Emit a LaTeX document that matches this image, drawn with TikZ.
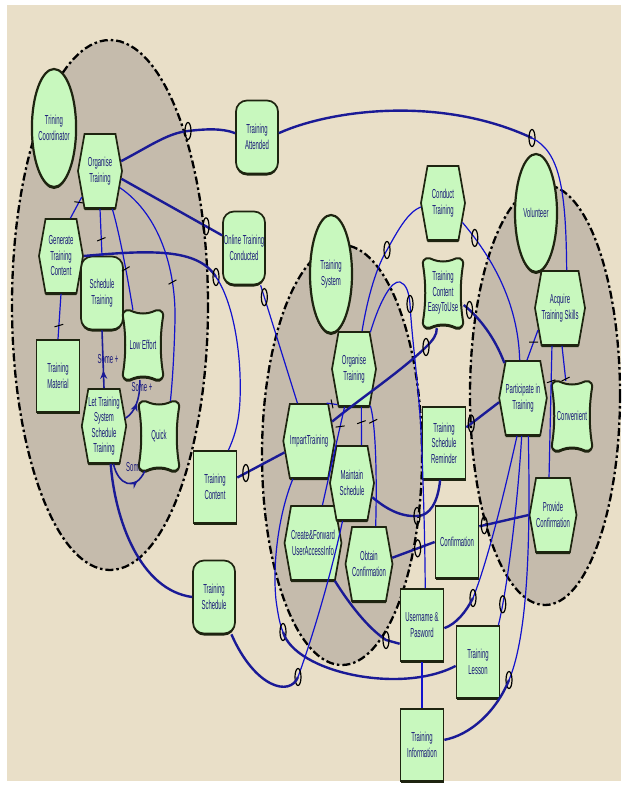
\documentclass[tikz,border=0pt]{standalone}
\usepackage{fontspec}
\newfontfamily\narfont[FakeStretch=0.46]{Liberation Sans}
\usetikzlibrary{shapes.geometric,shapes.symbols,shadows,decorations.markings,arrows.meta}
\definecolor{gfill}{RGB}{200,248,190}
\definecolor{edge}{RGB}{30,36,16}
\definecolor{tblue}{RGB}{25,25,120}
\definecolor{lblue}{RGB}{18,18,205}
\definecolor{dblue}{RGB}{26,26,150}
\definecolor{beige}{RGB}{233,223,200}
\definecolor{bgray}{RGB}{197,187,172}
\newcommand\lblfont{\narfont\fontsize{13}{15.5}\selectfont}
\tikzset{
 shd/.style={drop shadow={opacity=1, shadow xshift=0pt, shadow yshift=-2pt, fill=edge}},
 base/.style={fill=gfill, draw=edge, line width=1.7pt, inner sep=0pt, align=center, font=\lblfont, text=tblue, shd},
 actor/.style={base, ellipse, line width=2.2pt, minimum width=42pt, minimum height=118pt},
 goal/.style={base, rectangle, rounded corners=11pt, minimum width=42pt, minimum height=73pt},
 task/.style={base, signal, signal to=east and west, signal pointer angle=160, minimum width=44pt, minimum height=74pt},
 res/.style={base, rectangle, minimum width=43pt, minimum height=72pt},
 sgshape/.style={fill=gfill, draw=edge, line width=2pt, shd},
 sgtext/.style={inner sep=0pt, align=center, font=\lblfont, text=tblue, minimum width=41pt, minimum height=70pt},
 bnd/.style={fill=bgray, draw=black, line width=2.3pt, dash pattern=on 8pt off 3pt on 2.5pt off 3pt},
 lnk/.style={draw=lblue, line width=1.2pt},
 dep/.style={draw=dblue, line width=2.4pt},
 ctb/.style={draw=dblue, line width=1.6pt},
 dm/.style={draw=black, line width=1.2pt, ellipse, minimum width=6pt, minimum height=17pt, inner sep=0pt, fill=none},
 tick/.style={sloped, allow upside down, draw=black, line width=1pt, rectangle, minimum width=0pt, minimum height=9pt, inner sep=0pt, rotate=20},
 amid/.style={postaction={decorate}, decoration={markings, mark=at position #1 with {\arrow[dblue]{Stealth[length=8pt,width=7pt]}}}},
 lab/.style={font=\lblfont, text=tblue, inner sep=0pt}
}
\newcommand\sgoal[4]{%
  \path[sgshape, shift={(#2,#3)}] (-20,-28) .. controls (-21,-36) and (-14,-36) .. (-9,-33)
    .. controls (-4,-31) and (4,-31) .. (9,-33)
    .. controls (14,-36) and (21,-36) .. (20,-28)
    .. controls (17,-10) and (17,10) .. (20,28)
    .. controls (21,36) and (14,36) .. (9,33)
    .. controls (4,31) and (-4,31) .. (-9,33)
    .. controls (-14,36) and (-21,36) .. (-20,28)
    .. controls (-17,10) and (-17,-10) .. cycle;
  \node[sgtext] (#1) at (#2,#3) {#4};}
\begin{document}
\begin{tikzpicture}[x=1pt,y=-1pt]
\useasboundingbox (0,0) rectangle (621,789);
\fill[white] (0,0) rectangle (621,789);
\fill[beige] (7,5) rectangle (621,781);
% actor boundaries
\draw[bnd] (110,305) ellipse [x radius=98, y radius=265];
\draw[bnd] (342,455) ellipse [x radius=80, y radius=210];
\draw[bnd] (545,395) ellipse [x radius=75, y radius=210];
% actors
\node[actor] (tc) at (54,128) {Trining\\Coordinator};
\node[actor] (tsys) at (331,274) {Training\\System};
\node[actor] (vol) at (536,213) {Volunteer};
% goals
\node[goal] (ta) at (257,137) {Training\\Attended};
\node[goal] (otc) at (244,248) {Online Training\\Conducted};
\node[goal] (st) at (102,293) {Schedule\\Training};
\node[goal] (tsch) at (214,597) {Training\\Schedule};
% tasks
\node[task] (ot1) at (100,171) {Organise\\Training};
\node[task] (gtc) at (61,256) {Generate\\Training\\Content};
\node[task] (lts) at (104,426) {Let Training\\System\\Schedule\\Training};
\node[task] (ot2) at (354,369) {Organise\\Training};
\node[task] (it) at (309,441) {ImpartTraining};
\node[task] (cf) at (313,543) {Create\&Forward\\UserAccessInfo};
\node[task] (ms) at (352,483) {Maintain\\Schedule};
\node[task] (oc) at (369,564) {Obtain\\Confirmation};
\node[task] (ct) at (443,203) {Conduct\\Training};
\node[task] (ats) at (560,308) {Acquire\\Training Skills};
\node[task] (pit) at (523,398) {Participate in\\Training};
\node[task] (pc) at (553,515) {Provide\\Confirmation};
% resources
\node[res] (tm) at (58,376) {Training\\Material};
\node[res] (tcon) at (215,487) {Training\\Content};
\node[res] (tsr) at (444,443) {Training\\Schedule\\Reminder};
\node[res] (conf) at (457,542) {Confirmation};
\node[res] (up) at (422,625) {Username \&\\Pasword};
\node[res] (tl) at (478,662) {Training\\Lesson};
\node[res] (ti) at (422,745) {Training\\Information};
% labels
\node[lab] (l1) at (108,359) {Some +};
\node[lab] (l2) at (142,387) {Some +};
\node[lab, anchor=west] (l3) at (126,467) {Some +};
% softgoals
\sgoal{le}{143}{345}{Low Effort}
\sgoal{qk}{159}{436}{Quick}
\sgoal{tce}{443}{293}{Training\\Content\\EasyToUse}
\sgoal{conv}{572}{416}{Convenient}
% D split points
\coordinate (d2) at (532,138);
\coordinate (d5) at (216,277);
\coordinate (d17) at (473,598);
\coordinate (d19) at (509,680);
\coordinate (d20) at (283,632);
\coordinate (d21) at (298,677);
% dependencies
\draw[dep] (ot1.25) .. controls (150,146) and (168,133) .. (188,131) node[dm,pos=1]{} .. controls (205,129) and (222,128) .. (ta.170);
\draw[dep] (ta.10) .. controls (330,110) and (440,95) .. (d2) node[dm,pos=1]{};
\draw[lnk] (d2) .. controls (560,152) and (566,190) .. (ats.80);
\draw[dep] (ot1.-20) -- (otc.150) node[dm,pos=0.84]{};
\draw[lnk] (otc.-66) -- (it.107) node[dm,pos=0.1]{};
\draw[dep] (gtc.east) .. controls (150,250) and (198,248) .. (d5) node[dm,pos=1]{};
\draw[lnk] (d5) .. controls (232,300) and (242,350) .. (240,400) .. controls (239,425) and (233,440) .. (tcon.70);
\draw[dep] (tcon.23) -- (it.205) node[dm,pos=0.18]{};
\draw[dep] (it.40) .. controls (365,395) and (400,372) .. (426,347) node[dm,pos=1]{} .. controls (433,340) and (437,335) .. (tce.-100);
\draw[dep] (tce.-30) .. controls (480,318) and (495,338) .. (pit.118) node[dm,pos=0.12]{};
\draw[lnk] (ot2.78) .. controls (368,295) and (377,266) .. (387,250) node[dm,pos=1]{} .. controls (398,230) and (408,212) .. (ct.190);
\draw[lnk] (ct.-45) .. controls (490,255) and (518,300) .. (pit.95) node[dm,pos=0.15]{};
\draw[lnk] (ot2.66) .. controls (380,300) and (392,280) .. (400,282) .. controls (406,284) and (409,292) .. (410,304) node[dm,pos=1]{} .. controls (412,340) and (418,380) .. (421,430) .. controls (424,500) and (425,550) .. (up.85);
\draw[dep] (pit.190) -- (tsr.35) node[dm,pos=0.85]{};
\draw[dep] (tsr.-96) .. controls (438,502) and (430,516) .. (417,516) node[dm,pos=1]{} .. controls (400,517) and (385,508) .. (ms.-35);
\draw[dep] (pc.west) -- (conf.35) node[dm,pos=0.9]{};
\draw[dep] (conf.west) -- (oc.15) node[dm,pos=0.4]{};
\draw[dep] (cf.-60) .. controls (350,605) and (368,628) .. (386,640) node[dm,pos=1]{} -- (up.-140);
\draw[lnk] (pit.-99) .. controls (505,490) and (488,560) .. (d17) node[dm,pos=1]{};
\draw[dep] (d17) .. controls (466,612) and (456,624) .. (up.-8);
\draw[lnk] (pit.-92) .. controls (518,500) and (508,585) .. (tl.61) node[dm,pos=0.85]{};
\draw[lnk] (pit.-82) .. controls (530,520) and (530,630) .. (d19) node[dm,pos=1]{};
\draw[dep] (d19) .. controls (496,712) and (470,735) .. (ti.13);
\draw[lnk] (it.-113) .. controls (280,510) and (272,560) .. (276,600) .. controls (278,615) and (280,625) .. (d20) node[dm,pos=1]{};
\draw[dep] (d20) .. controls (295,672) and (400,695) .. (tl.-170);
\draw[lnk] (ms.-104) .. controls (332,570) and (315,630) .. (d21) node[dm,pos=1]{};
\draw[dep] (d21) .. controls (290,697) and (255,688) .. (tsch.-65);
\draw[dep] (lts.-80) .. controls (115,520) and (140,590) .. (tsch.west);
% decompositions
\draw[lnk] (ot1.-125) -- (gtc.76) node[tick,pos=0.25]{};
\draw[lnk] (ot1.south) -- (st.north) node[tick,pos=0.65]{};
\draw[lnk] (ot1.-72) .. controls (120,235) and (128,280) .. (le.106) node[tick,pos=0.6]{};
\draw[lnk] (ot1.-40) .. controls (160,215) and (176,270) .. (175,320) node[tick,pos=0.75]{} .. controls (174,360) and (172,385) .. (qk.72);
\draw[lnk] (gtc.south) -- (tm.north) node[tick,pos=0.7]{};
\draw[lnk] (ot2.-115) -- (it.65) node[tick,pos=0.5]{};
\draw[lnk] (ot2.-104) -- (cf.76) node[tick,pos=0.2]{};
\draw[lnk] (ot2.-79) -- (ms.76) node[tick,pos=0.4]{};
\draw[lnk] (ot2.-66) .. controls (376,425) and (377,480) .. (oc.80) node[tick,pos=0.2]{};
\draw[lnk] (ats.-135) -- (pit.84) node[tick,pos=0.4]{};
\draw[lnk] (ats.-87) -- (conv.100) node[tick,pos=0.95]{};
\draw[lnk] (ats.-102) -- (pc.96) node[tick,pos=0.27]{};
\draw[lnk] (up.south) -- (ti.north);
% contributions
\draw[ctb, amid=0.3] (lts.north) -- (st.south);
\draw[ctb, amid=0.45] (lts.20) .. controls (135,412) and (140,400) .. (le.-95);
\draw[ctb, amid=0.75] (lts.-76) .. controls (118,485) and (135,492) .. (qk.-112);
\end{tikzpicture}
\end{document}
